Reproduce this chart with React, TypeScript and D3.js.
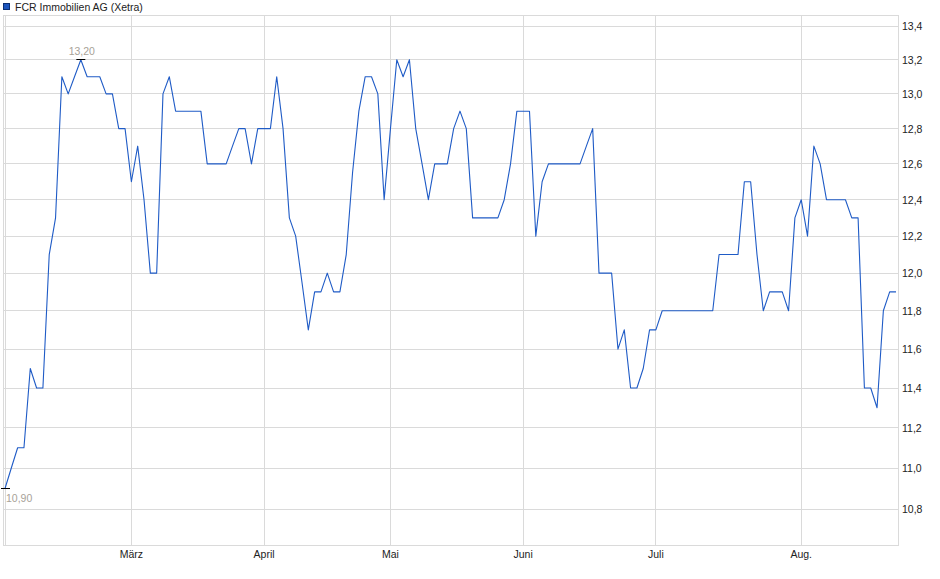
import * as d3 from 'd3'

// FCR Immobilien AG (Xetra), daily closes, one value per trading day
const prices = [
  10.9, 11.0, 11.1, 11.1, 11.5, 11.4, 11.4, 12.1, 12.3, 13.1,
  13.0, 13.1, 13.2, 13.1, 13.1, 13.1, 13.0, 13.0, 12.8, 12.8,
  12.5, 12.7, 12.4, 12.0, 12.0, 13.0, 13.1, 12.9, 12.9, 12.9,
  12.9, 12.9, 12.6, 12.6, 12.6, 12.6, 12.7, 12.8, 12.8, 12.6,
  12.8, 12.8, 12.8, 13.1, 12.8, 12.3, 12.2, 11.95, 11.7, 11.9,
  11.9, 12.0, 11.9, 11.9, 12.1, 12.55, 12.9, 13.1, 13.1, 13.0,
  12.4, 12.8, 13.2, 13.1, 13.2, 12.8, 12.6, 12.4, 12.6, 12.6,
  12.6, 12.8, 12.9, 12.8, 12.3, 12.3, 12.3, 12.3, 12.3, 12.4,
  12.6, 12.9, 12.9, 12.9, 12.2, 12.5, 12.6, 12.6, 12.6, 12.6,
  12.6, 12.6, 12.7, 12.8, 12.0, 12.0, 12.0, 11.6, 11.7, 11.4,
  11.4, 11.5, 11.7, 11.7, 11.8, 11.8, 11.8, 11.8, 11.8, 11.8,
  11.8, 11.8, 11.8, 12.1, 12.1, 12.1, 12.1, 12.5, 12.5, 12.1,
  11.8, 11.9, 11.9, 11.9, 11.8, 12.3, 12.4, 12.2, 12.7, 12.6,
  12.4, 12.4, 12.4, 12.4, 12.3, 12.3, 11.4, 11.4, 11.3, 11.8,
  11.9, 11.9,
]

// first trading day of each month (index into prices)
const monthIndex = [0, 20, 41, 61, 82, 103, 126]
const monthLabels = ['', 'März', 'April', 'Mai', 'Juni', 'Juli', 'Aug.']

const yTicks = [10.8, 11.0, 11.2, 11.4, 11.6, 11.8, 12.0, 12.2, 12.4, 12.6, 12.8, 13.0, 13.2, 13.4]
const yDomain = [10.626, 13.46]

const SERIES_NAME = 'FCR Immobilien AG (Xetra)'

const WIDTH = 940
const HEIGHT = 579
const PLOT_LEFT = 4
const PLOT_RIGHT = 898.5
const PLOT_TOP = 16
const PLOT_BOTTOM = 545.5
const GRID = '#dadada'
const TEXT = '#222'
const LINE = '#1f5bc6'
const FONT = '"Liberation Sans", Arial, sans-serif'

const fmt = (v: number, digits: number) => v.toFixed(digits).replace('.', ',')
const crisp = (v: number) => Math.round(v - 0.5) + 0.5

export default function App() {
  const x = d3.scaleLinear().domain([0, prices.length - 1]).range([5, 896])
  const y = d3.scaleLog().domain(yDomain).range([PLOT_BOTTOM, PLOT_TOP])

  const line = d3
    .line<number>()
    .x((_, i) => x(i))
    .y((d) => y(d))

  const maxI = d3.maxIndex(prices)
  const minI = d3.minIndex(prices)

  return (
    <svg
      width={WIDTH}
      height={HEIGHT}
      style={{ position: 'absolute', left: 0, top: 0, display: 'block', background: '#fff' }}
      fontFamily={FONT}
    >
      {/* legend */}
      <rect x={3.5} y={3.5} width={6} height={6} fill="#1c55bd" stroke="#0b2f73" />
      <text x={15} y={10.5} fontSize={10.5} fill={TEXT}>
        {SERIES_NAME}
      </text>

      {/* horizontal grid + right axis labels */}
      {yTicks.map((t) => (
        <g key={t}>
          <line
            x1={PLOT_LEFT}
            x2={PLOT_RIGHT}
            y1={crisp(y(t))}
            y2={crisp(y(t))}
            stroke={GRID}
          />
          <text x={902} y={y(t) + 4} fontSize={10.5} fill={TEXT}>
            {fmt(t, 1)}
          </text>
        </g>
      ))}

      {/* month grid + labels */}
      {monthIndex.map((m, i) => (
        <g key={m}>
          <line
            x1={crisp(x(m))}
            x2={crisp(x(m))}
            y1={PLOT_TOP}
            y2={PLOT_BOTTOM}
            stroke={GRID}
          />
          {monthLabels[i] && (
            <text x={x(m)} y={557.5} fontSize={10.5} fill={TEXT} textAnchor="middle">
              {monthLabels[i]}
            </text>
          )}
        </g>
      ))}

      {/* frame */}
      <rect
        x={PLOT_LEFT - 0.5}
        y={PLOT_TOP - 0.5}
        width={PLOT_RIGHT - PLOT_LEFT + 0.5}
        height={PLOT_BOTTOM - PLOT_TOP + 0.5}
        fill="none"
        stroke={GRID}
      />

      {/* price line */}
      <path
        d={line(prices) ?? ''}
        fill="none"
        stroke={LINE}
        strokeWidth={1.1}
        strokeLinejoin="round"
      />

      {/* high / low markers */}
      <line
        x1={x(maxI) - 4.5}
        x2={x(maxI) + 4.5}
        y1={crisp(y(prices[maxI]))}
        y2={crisp(y(prices[maxI]))}
        stroke="#000"
      />
      <text x={x(maxI) + 1} y={y(prices[maxI]) - 4.5} fontSize={10.5} fill="#a8a298" textAnchor="middle">
        {fmt(prices[maxI], 2)}
      </text>
      <line
        x1={x(minI) - 4}
        x2={x(minI) + 5}
        y1={crisp(y(prices[minI]))}
        y2={crisp(y(prices[minI]))}
        stroke="#000"
      />
      <text x={x(minI) + 1} y={y(prices[minI]) + 14} fontSize={10.5} fill="#a8a298">
        {fmt(prices[minI], 2)}
      </text>
    </svg>
  )
}
